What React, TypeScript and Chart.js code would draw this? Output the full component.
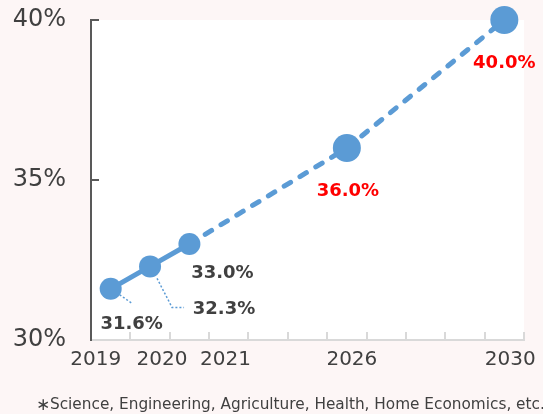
import { useEffect, useRef } from 'react';
import { Chart, registerables } from 'chart.js';

Chart.register(...registerables);

// ---- data ----
const categories = ['2019', '2020', '2021', '', '', '', '2026', '', '', '', '2030'];
const shareValues: (number | null)[] = [31.6, 32.3, 33.0, null, null, null, 36.0, null, null, null, 40.0];
const yTickValues = [30, 35, 40];
const footnoteMark = '∗';
const footnote = 'Science, Engineering, Agriculture, Health, Home Economics, etc.';

// ---- styles ----
const FONT = '"DejaVu Sans", Verdana, sans-serif';
const BLUE = '#5b9bd5';
const TEXT = '#404040';
const BG = '#fdf6f6';
const pointRadii = [11, 11, 11, 0, 0, 0, 14, 0, 0, 0, 14];
const labelColors = [TEXT, TEXT, TEXT, TEXT, TEXT, TEXT, '#ff0000', TEXT, TEXT, TEXT, '#ff0000'];
// label offsets relative to the point (style only)
const labelOffsets: Record<number, [number, number]> = {
  0: [21, 36],
  1: [74, 43],
  2: [33, 29],
  6: [1, 43],
  10: [0, 43],
};
// x-axis label offsets relative to category centre (manually placed in original)
const xLabelOffsets = [-15, 12, 36, 0, 0, 0, 5, 0, 0, 0, 6];

const decorPlugin = {
  id: 'decor',
  beforeDraw(chart: any) {
    const { ctx, chartArea: a, width, height } = chart;
    ctx.save();
    ctx.fillStyle = BG;
    ctx.fillRect(0, 0, width, height);
    ctx.fillStyle = '#ffffff';
    ctx.fillRect(a.left, a.top, a.right - a.left, a.bottom - a.top);
    ctx.restore();
  },
  beforeDatasetsDraw(chart: any) {
    const { ctx } = chart;
    const meta = chart.getDatasetMeta(0);
    ctx.save();
    ctx.strokeStyle = BLUE;
    ctx.lineWidth = 1.5;
    ctx.setLineDash([2, 2]);
    // leader for 2019
    const p0 = meta.data[0];
    ctx.beginPath();
    ctx.moveTo(p0.x + 9, p0.y + 6);
    ctx.lineTo(p0.x + 22, p0.y + 15);
    ctx.stroke();
    // leader for 2020
    const p1 = meta.data[1];
    ctx.beginPath();
    ctx.moveTo(p1.x + 7, p1.y + 12);
    ctx.lineTo(p1.x + 22, p1.y + 41);
    ctx.lineTo(p1.x + 34, p1.y + 41);
    ctx.stroke();
    ctx.restore();
  },
  afterDatasetsDraw(chart: any) {
    const { ctx } = chart;
    const meta = chart.getDatasetMeta(0);
    ctx.save();
    ctx.font = `bold 18px ${FONT}`;
    ctx.textAlign = 'center';
    ctx.textBaseline = 'middle';
    shareValues.forEach((v, i) => {
      if (v == null) return;
      const p = meta.data[i];
      const off = labelOffsets[i] || [0, 30];
      ctx.fillStyle = labelColors[i];
      ctx.fillText(`${v.toFixed(1)}%`, p.x + off[0], p.y + off[1]);
    });
    ctx.restore();
  },
  afterDraw(chart: any) {
    const { ctx } = chart;
    const xs = chart.scales.x;
    ctx.save();
    ctx.fillStyle = TEXT;
    ctx.font = `20px ${FONT}`;
    ctx.textAlign = 'center';
    ctx.textBaseline = 'middle';
    categories.forEach((c, i) => {
      if (!c) return;
      ctx.fillText(c, xs.getPixelForValue(i) + xLabelOffsets[i], 360);
    });
    ctx.textAlign = 'left';
    ctx.textBaseline = 'alphabetic';
    ctx.font = `17px ${FONT}`;
    ctx.fillText(footnoteMark, 36, 410);
    ctx.font = `15.3px ${FONT}`;
    ctx.fillText(footnote, 50, 409);
    ctx.restore();
  },
};

export default function App() {
  const ref = useRef<HTMLCanvasElement | null>(null);
  useEffect(() => {
    if (!ref.current) return;
    const chart = new Chart(ref.current, {
      type: 'line',
      data: {
        labels: categories,
        datasets: [
          {
            data: shareValues,
            borderColor: BLUE,
            backgroundColor: BLUE,
            borderWidth: 5,
            borderCapStyle: 'round',
            pointBackgroundColor: BLUE,
            pointBorderWidth: 0,
            pointRadius: pointRadii,
            pointHoverRadius: pointRadii,
            spanGaps: true,
            clip: false as any,
            tension: 0,
            segment: {
              borderDash: (c: any) => (c.p0DataIndex >= 2 ? [7.5, 11] : undefined),
            },
          } as any,
        ],
      },
      options: {
        animation: false,
        responsive: false,
        devicePixelRatio: 1,
        events: [],
        layout: { padding: { left: 0, right: 19, top: 20, bottom: 0 } },
        plugins: { legend: { display: false }, tooltip: { enabled: false } },
        scales: {
          x: {
            type: 'category',
            offset: true,
            grid: {
              offset: true,
              drawOnChartArea: false,
              drawTicks: true,
              tickLength: -8,
              color: '#d9d9d9',
              lineWidth: 2,
            },
            border: { color: '#d9d9d9', width: 2 },
            ticks: { display: false },
            afterFit: (s: any) => {
              s.height = 74;
              s.paddingLeft = 0;
              s.paddingRight = 0;
            },
          },
          y: {
            min: 30,
            max: 40,
            afterBuildTicks: (s: any) => {
              s.ticks = yTickValues.map((v) => ({ value: v }));
            },
            grid: {
              drawOnChartArea: false,
              drawTicks: true,
              tickLength: -8,
              color: (c: any) => (c.tick && c.tick.value === 30 ? 'rgba(0,0,0,0)' : '#595959'),
              lineWidth: 2,
            },
            border: { color: '#595959', width: 2 },
            ticks: {
              padding: 33,
              color: TEXT,
              font: { family: FONT, size: 24 },
              callback: (v: any) => `${v}%`,
            },
            afterFit: (s: any) => {
              s.width = 91;
              s.paddingTop = 0;
              s.paddingBottom = 0;
            },
          },
        },
      },
      plugins: [decorPlugin],
    });
    return () => chart.destroy();
  }, []);
  return (
    <div style={{ position: 'fixed', left: 0, top: 0, width: 543, height: 414 }}>
      <canvas ref={ref} width={543} height={414} style={{ display: 'block' }} />
    </div>
  );
}
